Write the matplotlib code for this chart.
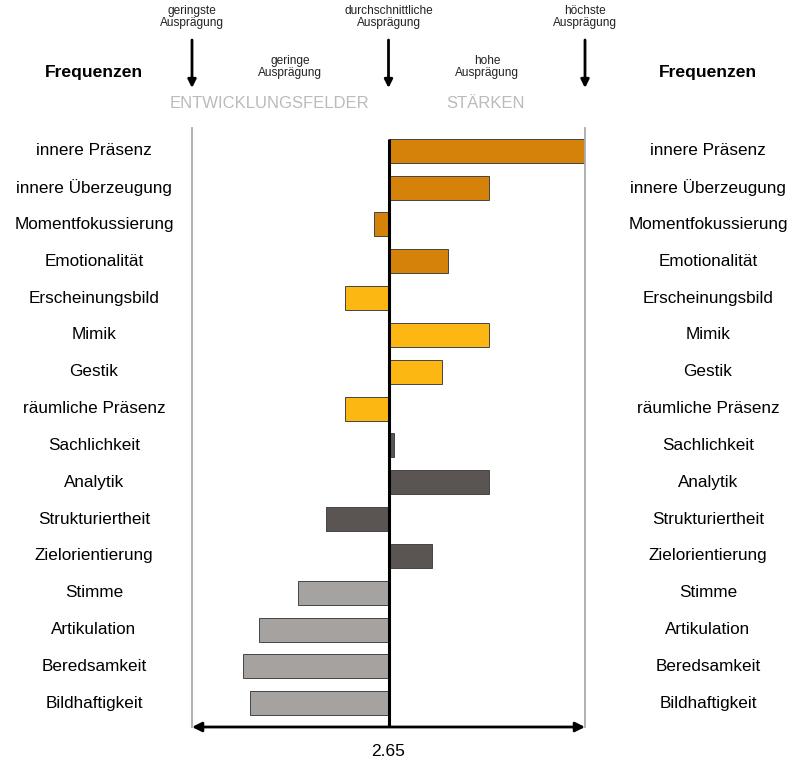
import matplotlib.pyplot as plt
import matplotlib.transforms as mtransforms

# Daten
merkmale = ["innere Präsenz", "innere Überzeugung", "Momentfokussierung", "Emotionalität",
            "Erscheinungsbild", "Mimik", "Gestik", "räumliche Präsenz",
            "Sachlichkeit", "Analytik", "Strukturiertheit", "Zielorientierung",
            "Stimme", "Artikulation", "Beredsamkeit", "Bildhaftigkeit"]
werte = [4.00, 3.34, 2.55, 3.06,
         2.35, 3.34, 3.02, 2.35,
         2.69, 3.34, 2.22, 2.95,
         2.03, 1.76, 1.65, 1.70]
gruppen_farben = ["#D4820A", "#FDB713", "#5A5552", "#A6A29F"]
mittelwert = 2.65
skala_min = 1.30
skala_max = 4.00

plt.rcParams['font.family'] = ['Liberation Sans', 'DejaVu Sans']

W, H = 798, 762
fig = plt.figure(figsize=(W / 100, H / 100), dpi=100)

# Achse in Pixeln: x 192..585, y 128..727 (von oben)
ax = fig.add_axes([192 / W, 1 - 727 / H, (585 - 192) / W, (727 - 128) / H])

n = len(merkmale)
farben = [gruppen_farben[i // 4] for i in range(n)]
ypos = list(range(n))
breiten = [w - mittelwert for w in werte]
ax.barh(ypos, breiten, left=mittelwert, height=0.65, color=farben,
        edgecolor="#444444", linewidth=0.7, zorder=2)

abstand = 36.84
ax.set_ylim(15 + 23.7 / abstand, -22.7 / abstand)
ax.set_xlim(skala_min, skala_max)

# Mittellinie
ax.plot([mittelwert, mittelwert], [-0.33, ax.get_ylim()[0]], color="black", lw=2.2, zorder=3,
        solid_capstyle="butt")

for s in ["top", "bottom"]:
    ax.spines[s].set_visible(False)
for s in ["left", "right"]:
    ax.spines[s].set_color("#aaaaaa")
    ax.spines[s].set_linewidth(1.3)
ax.set_xticks([])
ax.set_yticks([])

# Doppelpfeil unten
ax.annotate("", xy=(skala_min, ax.get_ylim()[0]), xytext=(skala_max, ax.get_ylim()[0]),
            arrowprops=dict(arrowstyle="<|-|>", color="black", lw=2, mutation_scale=14,
                            shrinkA=0, shrinkB=0), annotation_clip=False, zorder=4)
fig.text(388 / W, 1 - 751 / H, f"{mittelwert:.2f}", ha="center", va="center", fontsize=12.5)

# Beschriftungen links und rechts
trans = mtransforms.blended_transform_factory(fig.transFigure, ax.transData)
for i, name in enumerate(merkmale):
    ax.text(94 / W, i, name, transform=trans, ha="center", va="center", fontsize=12.3)
    ax.text(708 / W, i, name, transform=trans, ha="center", va="center", fontsize=12.3)

fig.text(94 / W, 1 - 73 / H, "Frequenzen", ha="center", va="center", fontsize=12.6, fontweight="bold")
fig.text(708 / W, 1 - 73 / H, "Frequenzen", ha="center", va="center", fontsize=12.6, fontweight="bold")

# Kopfzeile mit Pfeilen
ftrans = mtransforms.blended_transform_factory(ax.transData, fig.transFigure)
for xv, txt in [(skala_min, "geringste\nAusprägung"),
                (mittelwert, "durchschnittliche\nAusprägung"),
                (skala_max, "höchste\nAusprägung")]:
    ax.annotate("", xy=(xv, 1 - 88 / H), xytext=(xv, 1 - 40 / H), xycoords=ftrans, textcoords=ftrans,
                arrowprops=dict(arrowstyle="-|>", color="black", lw=2, mutation_scale=12,
                                shrinkA=0, shrinkB=0), annotation_clip=False)
    ax.text(xv, 1 - 17 / H, txt, transform=ftrans, ha="center", va="center", fontsize=8.6,
            linespacing=1.0, color="#222222")

fig.text(290 / W, 1 - 67 / H, "geringe\nAusprägung", ha="center", va="center", fontsize=8.6,
         linespacing=1.0, color="#222222")
fig.text(487 / W, 1 - 67 / H, "hohe\nAusprägung", ha="center", va="center", fontsize=8.6,
         linespacing=1.0, color="#222222")
fig.text(269 / W, 1 - 104 / H, "ENTWICKLUNGSFELDER", ha="center", va="center", fontsize=12, color="#bbbbbb")
fig.text(486 / W, 1 - 104 / H, "STÄRKEN", ha="center", va="center", fontsize=12, color="#bbbbbb")

fig.savefig("out.png", dpi=100)
